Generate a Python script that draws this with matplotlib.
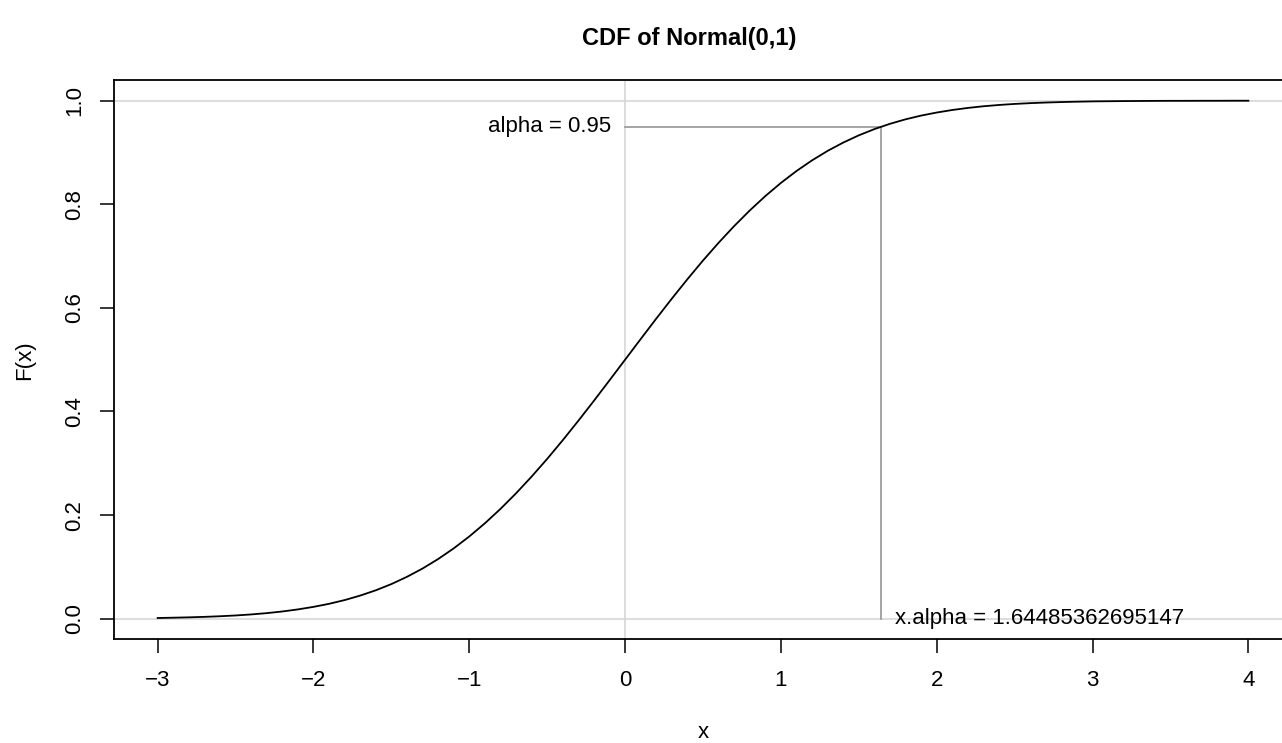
"""CDF of a standard normal with the 0.95 quantile marked (R base-graphics look)."""

import numpy as np
import matplotlib
matplotlib.use('Agg')
import matplotlib.pyplot as plt

plt.rcParams['font.family'] = ['Liberation Sans', 'DejaVu Sans']

# values, every 0.1 in x
x_vals = [round(-3.0 + 0.1 * i, 1) for i in range(71)]
cdf_vals = [0.0013, 0.0019, 0.0026, 0.0035, 0.0047, 0.0062, 0.0082, 0.0107, 0.0139, 0.0179,
            0.0228, 0.0287, 0.0359, 0.0446, 0.0548, 0.0668, 0.0808, 0.0968, 0.1151, 0.1357,
            0.1587, 0.1841, 0.2119, 0.2420, 0.2743, 0.3085, 0.3446, 0.3821, 0.4207, 0.4602,
            0.5000, 0.5398, 0.5793, 0.6179, 0.6554, 0.6915, 0.7257, 0.7580, 0.7881, 0.8159,
            0.8413, 0.8643, 0.8849, 0.9032, 0.9192, 0.9332, 0.9452, 0.9554, 0.9641, 0.9713,
            0.9772, 0.9821, 0.9861, 0.9893, 0.9918, 0.9938, 0.9953, 0.9965, 0.9974, 0.9981,
            0.9987, 0.9990, 0.9993, 0.9995, 0.9997, 0.9998, 0.9998, 0.9999, 0.9999, 1.0000,
            1.0000]

alpha = 0.95
x_alpha = 1.64485362695147

x_ticks = [-3, -2, -1, 0, 1, 2, 3, 4]
y_ticks = [0.0, 0.2, 0.4, 0.6, 0.8, 1.0]
y_labels = ['0.0', '0.2', '0.4', '0.6', '0.8', '1.0']

W, H = 1282, 743
fig = plt.figure(figsize=(W / 100, H / 100), dpi=100)
# plot region runs past the right edge of the picture, as in the reference
ax = fig.add_axes([114 / W, (H - 639.4) / H, 1178 / W, 559.4 / H])

light = '#d3d3d3'
dark = '#8c8c8c'
ax.axhline(0, color=light, lw=1.1, zorder=1)
ax.axhline(1, color=light, lw=1.1, zorder=1)
ax.axvline(0, color=light, lw=1.1, zorder=1)
ax.plot([0, x_alpha], [alpha, alpha], color=dark, lw=1.1, zorder=2)
ax.plot([x_alpha, x_alpha], [0, alpha], color=dark, lw=1.1, zorder=2)
ax.plot(x_vals, cdf_vals, color='black', lw=1.3, zorder=3)

fs = 16
ax.annotate(f'alpha = {alpha}', (0, alpha), xytext=(-10, 0), textcoords='offset points',
            ha='right', va='center', fontsize=fs)
ax.annotate(f'x.alpha = {x_alpha}', (x_alpha, 0), xytext=(10, 0), textcoords='offset points',
            ha='left', va='center', fontsize=fs)

ax.set_xlim(-3.28, 4.28)
ax.set_ylim(-0.04, 1.04)
ax.set_xticks(x_ticks)
ax.set_yticks(y_ticks)
ax.set_yticklabels(y_labels, rotation=90, va='center')
ax.tick_params(labelsize=fs, length=10, width=1.1, color='black')
ax.tick_params(axis='x', pad=12)
ax.tick_params(axis='y', pad=11)
for s in ax.spines.values():
    s.set_linewidth(1.3)

ax.set_xlabel('x', fontsize=fs, labelpad=22)
ax.set_ylabel('F(x)', fontsize=fs, labelpad=21)
fig.text(689 / W, (H - 45) / H, 'CDF of Normal(0,1)', ha='center', va='baseline',
         fontsize=17, fontweight='bold')

fig.savefig('out.png', dpi=100)
